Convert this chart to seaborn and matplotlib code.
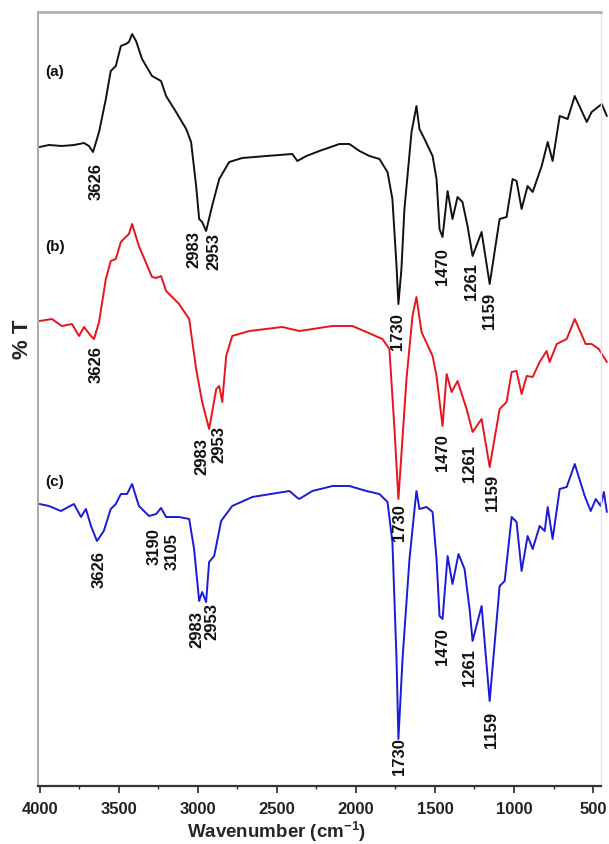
import matplotlib
matplotlib.use("Agg")
import matplotlib.pyplot as plt
import seaborn as sns
import pandas as pd
from matplotlib.ticker import MultipleLocator

# ---------------- data (wavenumber in cm-1, %T in arbitrary offset units) ----------------
wn_a = [4000, 3941, 3859, 3783, 3719, 3688, 3662, 3624, 3581, 3550, 3518, 3486, 3455, 3435,
        3415, 3390, 3352, 3289, 3232, 3200, 3137, 3073, 3042, 3010, 2991, 2972, 2947, 2909,
        2864, 2801, 2718, 2566, 2402, 2370, 2313, 2231, 2104, 2041, 1977, 1914, 1851, 1800,
        1769, 1743, 1731, 1712, 1693, 1648, 1617, 1598, 1566, 1515, 1490, 1471, 1452, 1420,
        1389, 1357, 1326, 1294, 1262, 1205, 1154, 1091, 1047, 1009, 984, 952, 914, 882, 825,
        787, 756, 711, 661, 616, 540, 509, 445, 413]
t_a = [63.9, 64.1, 64.0, 64.1, 64.3, 64.0, 63.4, 65.4, 68.7, 71.5, 72.0, 74.0, 74.2, 74.4,
       75.2, 74.5, 72.7, 71.0, 70.5, 69.0, 67.4, 65.7, 64.4, 60.0, 56.7, 56.4, 55.5, 58.0,
       60.7, 62.4, 62.8, 63.0, 63.2, 62.5, 63.0, 63.5, 64.2, 64.2, 63.5, 63.0, 62.7, 61.4,
       58.7, 52.0, 48.2, 51.7, 57.7, 65.4, 68.0, 65.7, 64.7, 63.0, 60.7, 55.7, 54.9, 59.5,
       56.7, 58.9, 58.4, 56.0, 53.0, 55.4, 50.2, 56.7, 56.9, 60.7, 60.5, 57.7, 60.0, 59.4, 62.0,
       64.4, 62.5, 67.0, 66.7, 69.0, 66.4, 67.4, 68.2, 67.0]

wn_b = [4000, 3922, 3859, 3795, 3751, 3719, 3675, 3656, 3624, 3581, 3550, 3518, 3486, 3455,
        3435, 3415, 3372, 3289, 3263, 3232, 3200, 3118, 3054, 3010, 2972, 2928, 2883, 2864,
        2845, 2820, 2782, 2674, 2465, 2358, 2148, 2022, 1933, 1832, 1788, 1756, 1731, 1680,
        1642, 1617, 1585, 1515, 1490, 1452, 1426, 1395, 1357, 1300, 1262, 1205, 1154, 1091,
        1047, 1015, 984, 952, 920, 882, 838, 794, 775, 730, 667, 616, 547, 509, 464, 413]
t_b = [46.5, 46.7, 46.0, 46.2, 45.0, 45.9, 45.0, 44.7, 46.4, 50.7, 52.5, 52.7, 54.4, 54.9,
       55.2, 56.2, 54.0, 50.9, 50.8, 51.0, 49.5, 48.2, 46.7, 41.7, 38.4, 35.7, 39.7, 40.0,
       38.4, 43.0, 45.0, 45.5, 45.9, 45.5, 46.0, 46.0, 45.4, 44.7, 43.7, 35.7, 28.7, 40.7,
       47.0, 48.9, 45.4, 43.0, 41.0, 36.0, 41.2, 39.4, 40.5, 37.7, 35.4, 36.7, 31.9, 37.7,
       38.4, 41.4, 41.5, 39.2, 41.0, 40.9, 42.4, 43.5, 42.4, 44.2, 44.7, 46.7, 44.2, 44.2, 43.7, 42.4]

wn_c = [4000, 3941, 3865, 3783, 3738, 3707, 3675, 3637, 3594, 3550, 3518, 3486, 3447, 3415,
        3372, 3308, 3263, 3232, 3200, 3118, 3054, 3023, 2991, 2972, 2947, 2928, 2896, 2852,
        2782, 2655, 2420, 2376, 2358, 2275, 2148, 2041, 1933, 1851, 1800, 1769, 1743, 1731,
        1705, 1661, 1629, 1617, 1598, 1553, 1515, 1490, 1471, 1452, 1420, 1389, 1351, 1313,
        1281, 1262, 1205, 1154, 1091, 1059, 1015, 984, 952, 914, 882, 838, 806, 787, 756, 711,
        667, 616, 553, 515, 483, 452, 432, 413]
t_c = [28.2, 28.0, 27.5, 28.2, 26.9, 27.7, 26.0, 24.5, 25.5, 27.7, 28.2, 29.2, 29.2, 30.2,
       28.0, 27.0, 27.2, 27.8, 26.9, 26.9, 26.7, 23.7, 18.5, 19.4, 18.4, 22.4, 23.0, 26.5,
       28.0, 28.9, 29.5, 28.9, 28.7, 29.5, 30.0, 30.0, 29.5, 29.2, 28.4, 24.4, 12.7, 4.7,
       12.7, 22.7, 27.7, 29.5, 27.7, 27.9, 27.4, 22.7, 17.0, 16.7, 23.0, 20.2, 23.2, 21.7,
       17.7, 14.5, 18.0, 8.5, 20.0, 20.5, 26.9, 26.4, 21.5, 25.0, 23.7, 26.0, 25.5, 27.9, 24.7, 29.7,
       29.9, 32.2, 29.0, 27.5, 28.7, 28.0, 29.4, 27.4]

curve_names = ["(a)", "(b)", "(c)"]
curve_colors = ["#111111", "#E8141C", "#1A1ADC"]

# peak labels for each curve
peaks_a = ["3626", "2983", "2953", "1730", "1470", "1261", "1159"]
peaks_b = ["3626", "2983", "2953", "1730", "1470", "1261", "1159"]
peaks_c = ["3626", "3190", "3105", "2983", "2953", "1730", "1470", "1261", "1159"]

# ---------------- label placement (text centres) ----------------
pos_a = [(3643, 60.6), (3023, 53.7), (2896, 53.5), (1737, 45.5), (1452, 52.0), (1268, 50.6), (1154, 47.6)]
pos_b = [(3643, 42.2), (2972, 33.0), (2864, 34.2), (1724, 26.4), (1452, 33.4), (1281, 32.3), (1135, 29.4)]
pos_c = [(3624, 21.7), (3276, 24.0), (3162, 23.5), (3004, 15.7), (2909, 16.5), (1724, 3.0),
         (1452, 14.0), (1281, 11.9), (1141, 5.7)]
name_pos = [(3905, 71.5), (3905, 54.0), (3905, 30.5)]

# ---------------- style ----------------
sns.set_style("white")
plt.rcParams["font.family"] = ["Liberation Sans", "DejaVu Sans"]
plt.rcParams["font.weight"] = "bold"
plt.rcParams["mathtext.fontset"] = "custom"
plt.rcParams["mathtext.rm"] = "Liberation Sans:bold"
plt.rcParams["mathtext.bf"] = "Liberation Sans:bold"
plt.rcParams["mathtext.default"] = "bf"

fig = plt.figure(figsize=(6.09, 8.45), dpi=100)
ax = fig.add_axes([38 / 609, 58 / 845, 563 / 609, 774 / 845])

frames = []
for name, wn, t in zip(curve_names, [wn_a, wn_b, wn_c], [t_a, t_b, t_c]):
    frames.append(pd.DataFrame({"wn": wn, "T": t, "sample": name}))
df = pd.concat(frames, ignore_index=True)

for name, col in zip(curve_names, curve_colors):
    sub = df[df["sample"] == name]
    sns.lineplot(data=sub, x="wn", y="T", color=col, lw=1.4, estimator=None,
                 sort=True, ax=ax, clip_on=False, legend=False)

for peaks, poss in [(peaks_a, pos_a), (peaks_b, pos_b), (peaks_c, pos_c)]:
    for lab, (x, y) in zip(peaks, poss):
        ax.text(x, y, lab, rotation=90, ha="center", va="center",
                fontsize=12, fontweight="bold", color="#111111")

for name, (x, y) in zip(curve_names, name_pos):
    ax.text(x, y, name, ha="center", va="center", fontsize=11, fontweight="bold", color="#111111")

ax.set_xlim(4010, 450)
ax.set_ylim(0, 77.4)
ax.set_yticks([])
ax.xaxis.set_major_locator(MultipleLocator(500))
ax.xaxis.set_minor_locator(MultipleLocator(250))
ax.tick_params(axis="x", which="major", direction="out", length=5, width=1.2,
               labelsize=12, pad=6, colors="#222222", bottom=True)
ax.tick_params(axis="x", which="minor", direction="out", length=2.5, width=1.0, bottom=True)
for lbl in ax.get_xticklabels():
    lbl.set_fontweight("bold")

ax.spines["bottom"].set_color("#333333")
ax.spines["bottom"].set_linewidth(1.6)
ax.spines["left"].set_color("#aaaaaa")
ax.spines["left"].set_linewidth(1.4)
ax.spines["top"].set_color("#aaaaaa")
ax.spines["top"].set_linewidth(1.8)
ax.spines["right"].set_color("#e4e4e4")
ax.spines["right"].set_linewidth(1.0)

ax.set_xlabel("Wavenumber (cm$^{-1}$)", fontsize=13.5, fontweight="bold", va="center")
ax.xaxis.set_label_coords(0.4245, -0.0575)
ax.set_ylabel("% T", fontsize=16, fontweight="bold", va="center")
ax.yaxis.set_label_coords(-0.028, 0.578)

fig.savefig("out.png", dpi=100)
